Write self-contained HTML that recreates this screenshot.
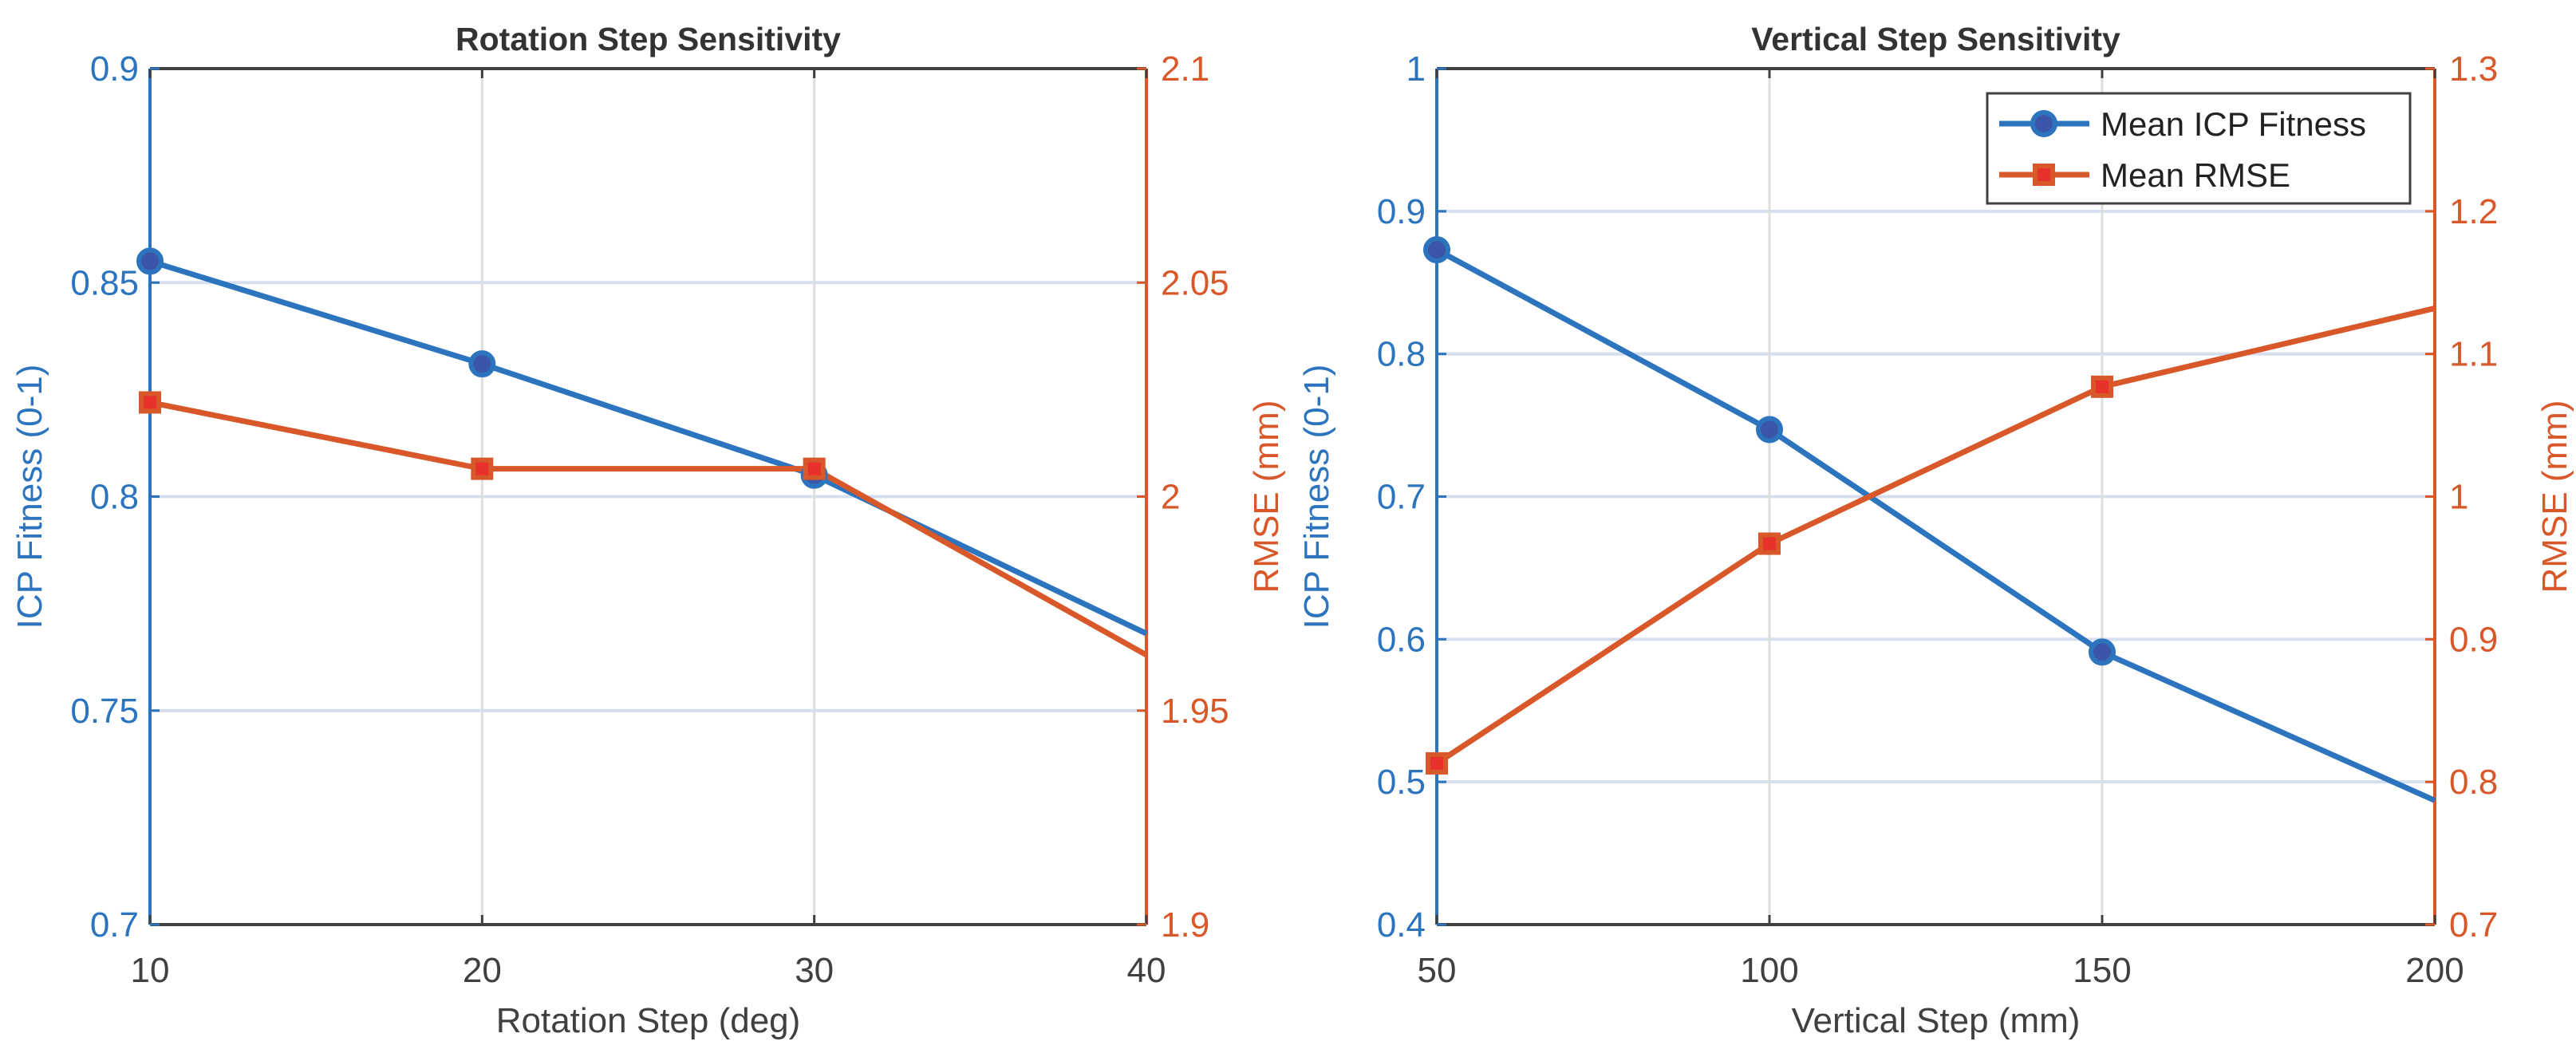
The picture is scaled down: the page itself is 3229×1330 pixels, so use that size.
<!DOCTYPE html>
<html><head><meta charset="utf-8"><style>
html,body{margin:0;padding:0;background:#fff;}
svg{display:block;font-family:"Liberation Sans",Arial,sans-serif;}
</style></head><body>
<svg id="fig" width="3229" height="1330" viewBox="0 0 3229 1330"></svg>
<script>
// Left panel data
const rotSteps = [10, 20, 30, 40];
const rotFitness = [0.855, 0.831, 0.805, 0.768];
const rotRmse = [2.022, 2.0065, 2.0065, 1.963];
const rotXTicks = [10, 20, 30, 40];
const rotYTicks = ["0.7","0.75","0.8","0.85","0.9"];
const rotY2Ticks = ["1.9","1.95","2","2.05","2.1"];
// Right panel data
const vertSteps = [50, 100, 150, 200];
const vertFitness = [0.873, 0.747, 0.591, 0.487];
const vertRmse = [0.813, 0.967, 1.077, 1.132];
const vertXTicks = [50, 100, 150, 200];
const vertYTicks = ["0.4","0.5","0.6","0.7","0.8","0.9","1"];
const vertY2Ticks = ["0.7","0.8","0.9","1","1.1","1.2","1.3"];

const NS="http://www.w3.org/2000/svg";
const svg=document.getElementById('fig');
const BLUE="#2C74BD", ORANGE="#D9582A", DARK="#404040";
function mk(tag,attrs,parent){const e=document.createElementNS(NS,tag);for(const k in attrs)e.setAttribute(k,attrs[k]);(parent||svg).appendChild(e);return e;}
function txt(s,attrs,parent){const e=mk('text',attrs,parent);e.textContent=s;return e;}

function panel(o){
  const g=mk('g',{});
  
  
  const L=o.L,R=o.R,T=86,B=1159;
  const xs=v=>L+(v-o.xmin)/(o.xmax-o.xmin)*(R-L);
  const y1=v=>B-(v-o.y1min)/(o.y1max-o.y1min)*(B-T);
  const y2=v=>B-(v-o.y2min)/(o.y2max-o.y2min)*(B-T);
  o.yt.forEach(t=>{const y=y1(+t);const l=mk('line',{x1:L,x2:R,y1:y,y2:y,stroke:"#D5DFF0","stroke-width":4},g);
    });
  o.xt.forEach(t=>{const x=xs(t);const l=mk('line',{x1:x,x2:x,y1:T,y2:B,stroke:"#DEDEDE","stroke-width":3},g);
    });
  mk('line',{x1:L,x2:R,y1:T,y2:T,stroke:DARK,"stroke-width":4},g);
  mk('line',{x1:L,x2:R,y1:B,y2:B,stroke:DARK,"stroke-width":4},g);
  const la=mk('line',{x1:L,x2:L,y1:T,y2:B,stroke:BLUE,"stroke-width":4},g);
  
  const ra=mk('line',{x1:R,x2:R,y1:T,y2:B,stroke:ORANGE,"stroke-width":4},g);
  
  o.xt.forEach(t=>{const x=xs(t);mk('line',{x1:x,x2:x,y1:B,y2:B-12,stroke:DARK,"stroke-width":3},g);mk('line',{x1:x,x2:x,y1:T,y2:T+12,stroke:DARK,"stroke-width":3},g);
    const e=txt(String(t),{x:x,y:1231,"text-anchor":"middle","font-size":44,fill:DARK},g);
    });
  o.yt.forEach(t=>{const y=y1(+t);mk('line',{x1:L,x2:L+12,y1:y,y2:y,stroke:BLUE,"stroke-width":3},g);
    const e=txt(t,{x:L-14,y:y+15,"text-anchor":"end","font-size":44,fill:BLUE},g);
    });
  o.y2t.forEach(t=>{const y=y2(+t);mk('line',{x1:R-12,x2:R,y1:y,y2:y,stroke:ORANGE,"stroke-width":3},g);
    const e=txt(t,{x:R+18,y:y+15,"text-anchor":"start","font-size":44,fill:ORANGE},g);
    });
  const ti=txt(o.title,{x:(L+R)/2,y:63,"text-anchor":"middle","font-size":41,"font-weight":"bold",fill:"#333"},g);
  
  const xl=txt(o.xlabel,{x:(L+R)/2,y:1294,"text-anchor":"middle","font-size":44,fill:DARK},g);
  
  const yl=txt("ICP Fitness (0-1)",{x:0,y:0,"text-anchor":"middle","font-size":44,fill:BLUE,transform:`translate(${L-136},${(T+B)/2}) rotate(-90)`},g);
  
  const yr=txt("RMSE (mm)",{x:0,y:0,"text-anchor":"middle","font-size":44,fill:ORANGE,transform:`translate(${R+165},${(T+B)/2}) rotate(-90)`},g);
  
  const fp=o.x.map((v,i)=>xs(v)+','+y1(o.f[i])).join(' ');
  const fl=mk('polyline',{points:fp,fill:"none",stroke:BLUE,"stroke-width":7,"stroke-linejoin":"round"},g);
  
  const rp=o.x.map((v,i)=>xs(v)+','+y2(o.r[i])).join(' ');
  const rl=mk('polyline',{points:rp,fill:"none",stroke:ORANGE,"stroke-width":7,"stroke-linejoin":"round"},g);
  
  o.x.forEach((v,i)=>{if(i===o.x.length-1)return;
    const c=mk('circle',{cx:xs(v),cy:y1(o.f[i]),r:14,fill:"#3B55A8",stroke:BLUE,"stroke-width":6},g);
    
    const s=mk('rect',{x:xs(v)-11,y:y2(o.r[i])-11,width:22,height:22,fill:"#E8312C",stroke:ORANGE,"stroke-width":6},g);
    });
  return g;
}
panel({name:'rotation-panel',L:188,R:1437,xmin:10,xmax:40,y1min:0.7,y1max:0.9,y2min:1.9,y2max:2.1,
  xt:rotXTicks,yt:rotYTicks,y2t:rotY2Ticks,x:rotSteps,f:rotFitness,r:rotRmse,title:"Rotation Step Sensitivity",xlabel:"Rotation Step (deg)"});
panel({name:'vertical-panel',L:1801,R:3052,xmin:50,xmax:200,y1min:0.4,y1max:1.0,y2min:0.7,y2max:1.3,
  xt:vertXTicks,yt:vertYTicks,y2t:vertY2Ticks,x:vertSteps,f:vertFitness,r:vertRmse,title:"Vertical Step Sensitivity",xlabel:"Vertical Step (mm)"});
const lg=mk('g',{});


mk('rect',{x:2491,y:117,width:530,height:138,fill:"#fff",stroke:DARK,"stroke-width":3},lg);
mk('line',{x1:2506,x2:2619,y1:155,y2:155,stroke:BLUE,"stroke-width":7},lg);
mk('circle',{cx:2562,cy:155,r:14,fill:"#3B55A8",stroke:BLUE,"stroke-width":6},lg);
const t1=txt("Mean ICP Fitness",{x:2633,y:170,"font-size":42,fill:"#222"},lg);

mk('line',{x1:2506,x2:2619,y1:219,y2:219,stroke:ORANGE,"stroke-width":7},lg);
mk('rect',{x:2551,y:208,width:22,height:22,fill:"#E8312C",stroke:ORANGE,"stroke-width":6},lg);
const t2=txt("Mean RMSE",{x:2633,y:234,"font-size":42,fill:"#222"},lg);

</script>
</body></html>
